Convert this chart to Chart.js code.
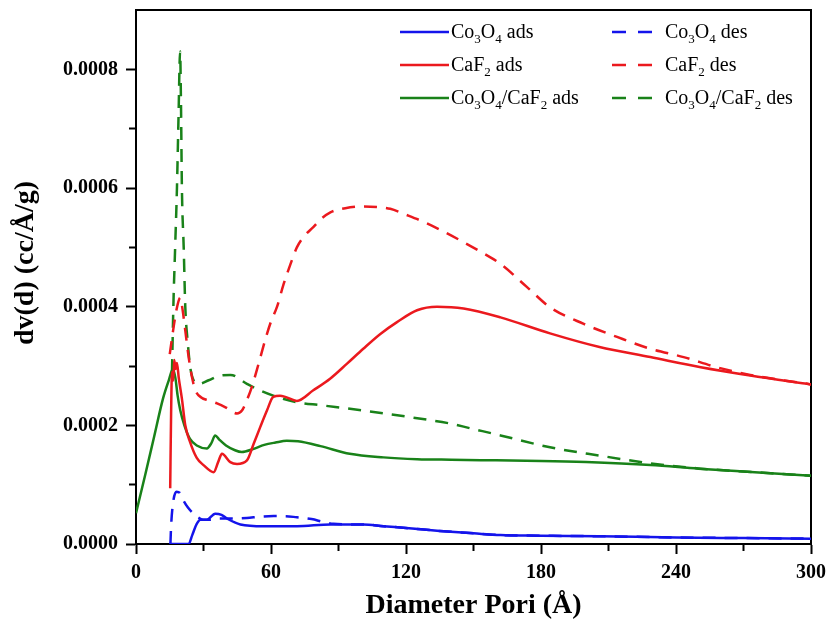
<!DOCTYPE html>
<html><head><meta charset="utf-8">
<script src="https://cdn.jsdelivr.net/npm/chart.js@4.4.1/dist/chart.umd.min.js"></script>
<style>
html,body{margin:0;padding:0;background:#fff;}
#wrap{position:relative;width:829px;height:625px;}
#legend{position:absolute;left:400px;top:15px;display:grid;grid-template-columns:212px auto;font-family:'Liberation Serif','Times New Roman',serif;font-size:20px;color:#000;}
.item{display:flex;align-items:center;height:33px;white-space:nowrap;}
.item sub{font-size:13px;vertical-align:-5px;line-height:0;}
</style></head><body>
<div id="wrap"><canvas id="c" width="829" height="625"></canvas><div id="legend"></div></div>
<script>
// ---- data (diameter in Å, dv(d) in cc/Å/g) ----
const seriesLabels = ['Co₃O₄ ads','Co₃O₄ des','CaF₂ ads','CaF₂ des','Co₃O₄/CaF₂ ads','Co₃O₄/CaF₂ des'];

const co3o4AdsX = [15,23.4,25,27,28.6,31.5,35.2,38,40.4,46.4,56.7,71.5,86.4,101,110,120,135,150,162,180,206,240,270,300];
const co3o4AdsY = [0,0,0.15e-4,0.34e-4,0.41e-4,0.41e-4,0.51e-4,0.49e-4,0.43e-4,0.33e-4,0.30e-4,0.30e-4,0.33e-4,0.33e-4,0.30e-4,0.27e-4,0.22e-4,0.18e-4,0.15e-4,0.14e-4,0.13e-4,0.11e-4,0.10e-4,0.09e-4];

const co3o4DesX = [15.3,15.6,16.5,18,19.5,21,23,25.6,28,30,33,36,42,49.3,55,61.2,66,71.5,78,83.4,87.7,95,101,110,120,135,150,162,180,206,240,270,300];
const co3o4DesY = [0,0.3e-4,0.7e-4,0.88e-4,0.86e-4,0.74e-4,0.62e-4,0.51e-4,0.44e-4,0.41e-4,0.41e-4,0.43e-4,0.43e-4,0.44e-4,0.46e-4,0.47e-4,0.47e-4,0.45e-4,0.42e-4,0.37e-4,0.34e-4,0.33e-4,0.33e-4,0.30e-4,0.27e-4,0.22e-4,0.18e-4,0.15e-4,0.14e-4,0.13e-4,0.11e-4,0.10e-4,0.09e-4];

const caf2AdsX = [15.2,15.6,16,16.5,17,17.6,18.2,19,20.4,21.9,24,27,30,34.5,36.5,38.2,41.9,44.9,49.3,52.3,55.2,58.2,61,64,66.4,71.5,78.8,86.4,93.8,101,108.6,116,124.9,133.8,145.6,162,184,206,228.6,251,273,300];
const caf2AdsY = [0.94e-4,2.2e-4,2.9e-4,2.75e-4,3.1e-4,2.95e-4,3.05e-4,2.8e-4,2.45e-4,2.0e-4,1.72e-4,1.45e-4,1.33e-4,1.21e-4,1.38e-4,1.52e-4,1.38e-4,1.35e-4,1.41e-4,1.69e-4,1.97e-4,2.25e-4,2.48e-4,2.5e-4,2.48e-4,2.41e-4,2.59e-4,2.79e-4,3.04e-4,3.29e-4,3.54e-4,3.74e-4,3.94e-4,4.0e-4,3.97e-4,3.82e-4,3.55e-4,3.32e-4,3.15e-4,2.98e-4,2.84e-4,2.69e-4];

const caf2DesX = [15,16.5,18,19.7,20.5,21.9,23.4,24.9,26.4,29,32.3,36,40,44.9,47.1,49,51.5,54.5,57.5,60,62.7,65.6,68.5,71.5,75,78.8,82,86.4,93,101,107,113,120,127.8,136,144,153,162,173.8,184,199,213.8,228.6,243.4,258,273,300];
const caf2DesY = [3.2e-4,3.6e-4,3.95e-4,4.15e-4,4.0e-4,3.6e-4,3.15e-4,2.81e-4,2.59e-4,2.47e-4,2.42e-4,2.37e-4,2.3e-4,2.2e-4,2.25e-4,2.4e-4,2.65e-4,3.04e-4,3.45e-4,3.75e-4,4.0e-4,4.38e-4,4.7e-4,5.0e-4,5.2e-4,5.34e-4,5.47e-4,5.59e-4,5.66e-4,5.69e-4,5.68e-4,5.65e-4,5.55e-4,5.43e-4,5.28e-4,5.12e-4,4.93e-4,4.72e-4,4.33e-4,3.99e-4,3.71e-4,3.49e-4,3.29e-4,3.15e-4,2.98e-4,2.85e-4,2.69e-4];

const mixAdsX = [0,4,8,12,14.5,16.4,17.5,18.5,19.7,21.5,24,27,31.5,33.5,35.2,37,40,44,47,52,57,62,67,72,82,95,110,125,140,160,180,200,228.7,250,275,300];
const mixAdsY = [0.52e-4,1.15e-4,1.8e-4,2.45e-4,2.75e-4,2.95e-4,2.8e-4,2.5e-4,2.25e-4,2.0e-4,1.77e-4,1.66e-4,1.61e-4,1.7e-4,1.83e-4,1.76e-4,1.66e-4,1.58e-4,1.55e-4,1.6e-4,1.67e-4,1.71e-4,1.74e-4,1.73e-4,1.65e-4,1.52e-4,1.46e-4,1.43e-4,1.42e-4,1.41e-4,1.40e-4,1.38e-4,1.33e-4,1.27e-4,1.21e-4,1.15e-4];

const mixDesX = [16,16.6,17.4,18.2,18.9,19.6,20,20.4,21.2,21.9,23,24.1,25.6,28,32.3,37.5,42,49.3,55,61,71.5,82,101,125,139.7,148.6,162,184,206,228.6,251,275,300];
const mixDesY = [2.9e-4,4.0e-4,5.0e-4,6.0e-4,7.2e-4,8.3e-4,7.4e-4,6.0e-4,5.0e-4,4.0e-4,3.4e-4,2.98e-4,2.76e-4,2.7e-4,2.76e-4,2.84e-4,2.85e-4,2.7e-4,2.59e-4,2.5e-4,2.39e-4,2.34e-4,2.25e-4,2.12e-4,2.03e-4,1.95e-4,1.83e-4,1.63e-4,1.49e-4,1.36e-4,1.27e-4,1.21e-4,1.15e-4];

const xMajorTicks = [0,60,120,180,240,300];
const yMajorTicks = [0,0.0002,0.0004,0.0006,0.0008];

// ---- styles ----
const BLUE='rgb(20,20,235)', RED='rgb(235,25,30)', GREEN='rgb(25,130,25)';
const FONT="'Liberation Serif','Times New Roman',serif";
const DASH=[13,9];
const Y_MAX=0.0009;

const pts=(xs,ys)=>xs.map((x,i)=>({x,y:ys[i]}));
const mk=(i,xs,ys,color,dashed)=>({label:seriesLabels[i],data:pts(xs,ys),borderColor:color,backgroundColor:color,
  borderWidth:2.5,borderDash:dashed?DASH:[],pointRadius:0,showLine:true,fill:false,cubicInterpolationMode:'monotone'});

const datasets=[
  mk(0,co3o4AdsX,co3o4AdsY,BLUE,false),
  mk(1,co3o4DesX,co3o4DesY,BLUE,true),
  mk(2,caf2AdsX,caf2AdsY,RED,false),
  mk(3,caf2DesX,caf2DesY,RED,true),
  mk(4,mixAdsX,mixAdsY,GREEN,false),
  mk(5,mixDesX,mixDesY,GREEN,true)
];

const isMajorX=v=>xMajorTicks.some(t=>Math.abs(t-v)<1e-6);
const isMajorY=v=>yMajorTicks.some(t=>Math.abs(t-v)<1e-9);

const htmlLegend={id:'htmlLegend',afterUpdate(chart){
  const box=document.getElementById('legend');box.innerHTML='';
  chart.data.datasets.forEach(ds=>{
    const dashed=ds.borderDash&&ds.borderDash.length>0;
    const item=document.createElement('div');item.className='item';
    const w=dashed?40:49;
    item.innerHTML='<svg width="'+w+'" height="6"><line x1="0" y1="3" x2="'+w+'" y2="3" stroke="'+ds.borderColor+'" stroke-width="2.5"'+(dashed?' stroke-dasharray="14 12"':'')+'/></svg>';
    const sp=document.createElement('span');sp.style.marginLeft=(dashed?13:2)+'px';
    sp.innerHTML=ds.label.replace(/[₀-₉]/g,c=>'<sub>'+(c.charCodeAt(0)-0x2080)+'</sub>');
    item.appendChild(sp);box.appendChild(item);
  });
}};

new Chart(document.getElementById('c'),{
  type:'scatter',
  data:{datasets},
  plugins:[htmlLegend],
  options:{
    responsive:false,animation:false,devicePixelRatio:1,
    layout:{padding:{top:10,right:18,left:0,bottom:0}},
    plugins:{legend:{display:false},tooltip:{enabled:false}},
    scales:{
      x:{type:'linear',position:'bottom',min:0,max:300,
        ticks:{stepSize:30,autoSkip:false,maxRotation:0,padding:7,color:'#000',font:{family:FONT,size:20,weight:'bold'},
          callback:v=>isMajorX(v)?String(v):''},
        grid:{drawOnChartArea:false,tickLength:10,tickWidth:2,tickColor:'#000',
          tickBorderDash:ctx=>(ctx.tick&&!isMajorX(ctx.tick.value))?[6,100]:[]},
        border:{color:'#000',width:2},
        title:{display:true,text:'Diameter Pori (Å)',color:'#000',font:{family:FONT,size:28,weight:'bold',lineHeight:1.2},padding:{top:0,bottom:2}},
        afterFit:s=>{s.height=81;s.paddingLeft=0;s.paddingRight=0;}},
      y:{type:'linear',position:'left',min:0,max:Y_MAX,
        ticks:{stepSize:0.0001,autoSkip:false,padding:8,color:'#000',font:{family:FONT,size:20,weight:'bold'},
          callback:v=>isMajorY(v)?v.toFixed(4):''},
        grid:{drawOnChartArea:false,tickLength:10,tickWidth:2,tickColor:'#000',
          tickBorderDash:ctx=>{
            if(!ctx.tick||isMajorY(ctx.tick.value)) return [];
            return ctx.tick.value>=Y_MAX-1e-9?[0,100]:[0,3,6,100];
          }},
        border:{color:'#000',width:2},
        title:{display:true,text:'    dv(d) (cc/Å/g)',color:'#000',font:{family:FONT,size:28,weight:'bold',lineHeight:1.2},padding:{top:9,bottom:0}},
        afterFit:s=>{s.width=136;s.paddingTop=0;s.paddingBottom=0;}},
      x2:{type:'linear',position:'top',min:0,max:300,
        ticks:{display:false},grid:{drawOnChartArea:false,drawTicks:false},
        border:{color:'#000',width:2},afterFit:s=>{s.height=0;s.paddingLeft=0;s.paddingRight=0;}},
      y2:{type:'linear',position:'right',min:0,max:Y_MAX,
        ticks:{display:false},grid:{drawOnChartArea:false,drawTicks:false},
        border:{color:'#000',width:2},afterFit:s=>{s.width=0;s.paddingTop=0;s.paddingBottom=0;}}
    }
  }
});
</script></body></html>
